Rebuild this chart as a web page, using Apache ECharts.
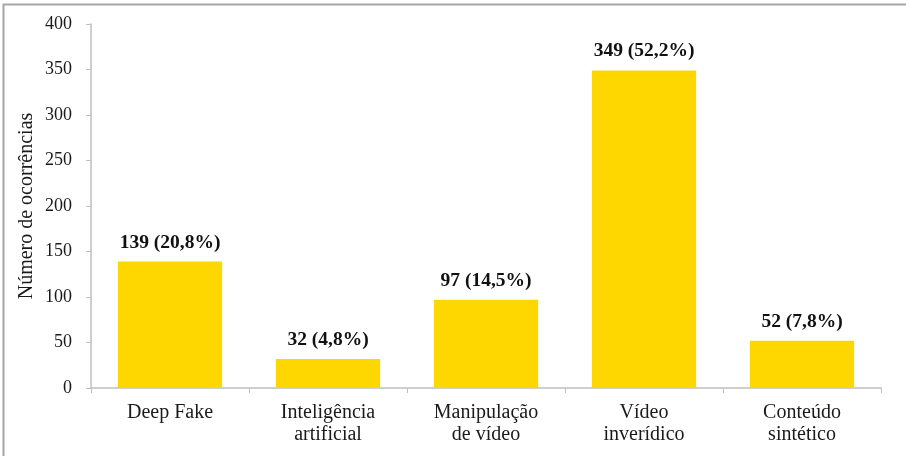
<!DOCTYPE html>
<html><head><meta charset="utf-8">
<script src="https://cdn.jsdelivr.net/npm/echarts@6/dist/echarts.min.js"></script>
<style>html,body{margin:0;padding:0;background:#fff}#c{width:906px;height:456px}</style>
</head><body><div id="c"></div>
<script>
const categories = ["Deep Fake", "Inteligência\nartificial", "Manipulação\nde vídeo", "Vídeo\ninverídico", "Conteúdo\nsintético"];
const values = [139, 32, 97, 349, 52];
const percents = ["20,8%", "4,8%", "14,5%", "52,2%", "7,8%"];
const yTicks = [0, 400, 50];

const font = "Liberation Serif";
const chart = echarts.init(document.getElementById('c'), null, {renderer: 'canvas'});
chart.setOption({
  animation: false,
  graphic: [{type: 'rect', shape: {x: 3.5, y: 4.5, width: 920, height: 470}, style: {fill: 'none', stroke: '#a6a6a6', lineWidth: 2}, silent: true}],
  grid: {left: 91, right: 25, top: 24, bottom: 68, containLabel: false},
  xAxis: {
    type: 'category', data: categories,
    axisLine: {lineStyle: {color: '#bfbfbf', width: 1.5}},
    axisTick: {show: true, alignWithLabel: false, length: 5, lineStyle: {color: '#bfbfbf'}},
    axisLabel: {fontFamily: font, fontSize: 20, color: '#1a1a1a', lineHeight: 22, margin: 14, interval: 0}
  },
  yAxis: {
    type: 'value', min: yTicks[0], max: yTicks[1], interval: yTicks[2],
    name: 'Número de ocorrências', nameLocation: 'middle', nameGap: 54, nameMoveOverlap: false,
    nameTextStyle: {fontFamily: font, fontSize: 20, color: '#1a1a1a'},
    axisLine: {show: true, lineStyle: {color: '#bfbfbf', width: 1.5}},
    axisTick: {show: true, length: 5, lineStyle: {color: '#bfbfbf'}},
    splitLine: {show: false},
    axisLabel: {fontFamily: font, fontSize: 18, color: '#1a1a1a', margin: 19}
  },
  series: [{
    type: 'bar', data: values, barCategoryGap: '34%',
    itemStyle: {color: '#FFD700'},
    label: {
      show: true, position: 'top', distance: 9,
      fontFamily: font, fontSize: 19.5, fontWeight: 'bold', color: '#111',
      formatter: p => p.value + ' (' + percents[p.dataIndex] + ')'
    }
  }]
});
</script></body></html>
